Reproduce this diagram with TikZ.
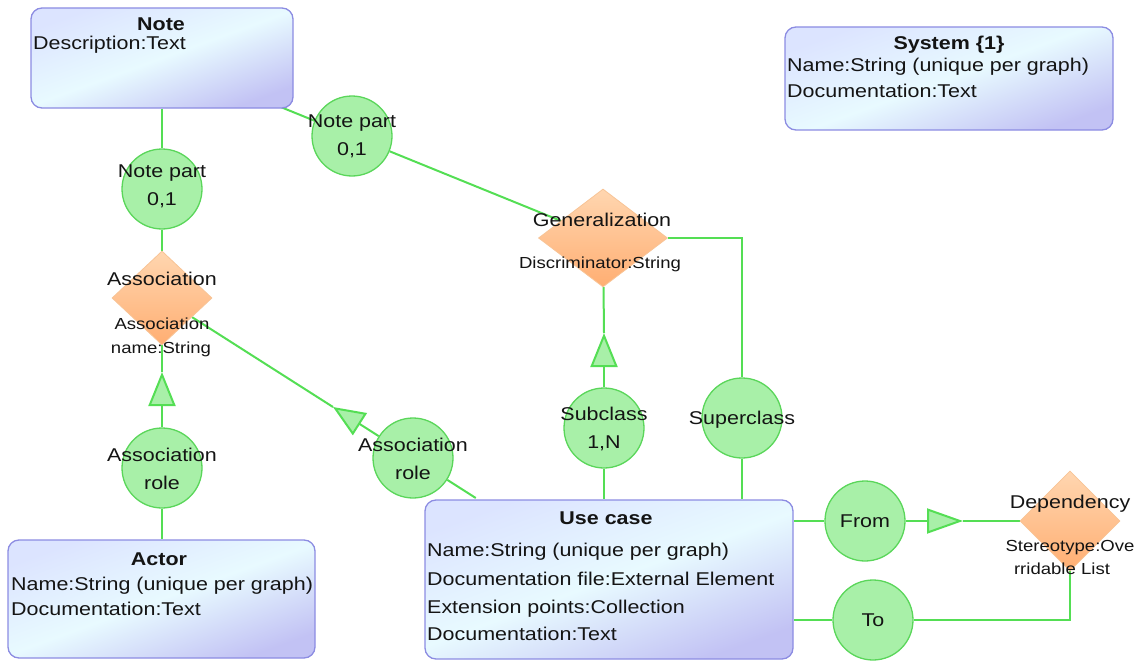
\documentclass[tikz,border=0pt]{standalone}
\usepackage{fontspec}
\setmainfont{Liberation Sans}[FakeStretch=1.16]
\usetikzlibrary{shapes.geometric,arrows.meta,calc}
\pgfdeclarelayer{background}
\pgfsetlayers{background,main}

\definecolor{linegreen}{RGB}{84,222,84}
\definecolor{circfill}{RGB}{168,240,168}
\definecolor{circdraw}{RGB}{90,214,90}
\definecolor{boxdraw}{RGB}{140,140,226}
\definecolor{boxtop}{RGB}{220,228,255}
\definecolor{boxmid}{RGB}{232,250,255}
\definecolor{boxbot}{RGB}{194,194,244}
\definecolor{diatop}{RGB}{255,214,176}
\definecolor{diabot}{RGB}{255,174,114}
\definecolor{diadraw}{RGB}{248,196,150}
\definecolor{ink}{RGB}{20,20,20}

\tikzset{
  entity/.style={draw=boxdraw, line width=1.3pt, rounded corners=11pt, inner sep=0pt,
    top color=boxtop, bottom color=boxbot, middle color=boxmid, shading angle=20},
  rel/.style={diamond, draw=diadraw, line width=0.8pt, inner sep=0pt,
    top color=diatop, bottom color=diabot},
  role/.style={circle, draw=circdraw, line width=1.3pt, fill=circfill,
    minimum size=80pt, inner sep=0pt},
  conn/.style={draw=linegreen, line width=2pt},
  tiphead/.style={-{Triangle[length=34pt,width=27pt,fill=circfill]}},
  titletext/.style={font=\fontsize{18.5}{22}\selectfont\bfseries, text=ink, anchor=base, inner sep=0pt},
  attrtext/.style={font=\fontsize{18.5}{22}\selectfont, text=ink, anchor=base west, inner sep=0pt},
  roletext/.style={font=\fontsize{18.5}{28}\selectfont, text=ink, align=center, inner sep=0pt},
  reltext/.style={font=\fontsize{18.5}{22}\selectfont, text=ink, anchor=base, inner sep=0pt},
  smalltext/.style={font=\fontsize{16}{20}\selectfont, text=ink, anchor=base, inner sep=0pt},
}

\begin{document}
\begin{tikzpicture}[x=1pt,y=-1pt]
\useasboundingbox (0,0) rectangle (1141,661);

% entity boxes
\node[entity, minimum width=262pt, minimum height=100pt] (note) at (162,58) {};
\node[titletext] (noteT) at (161,31) {Note};
\node[attrtext] (noteA) at (33,50) {Description:Text};

\node[entity, minimum width=328pt, minimum height=103pt] (system) at (949,78.5) {};
\node[titletext] (systemT) at (949,50) {System \{1\}};
\node[attrtext] (systemA) at (787,72) {Name:String (unique per graph)};
\node[attrtext] (systemB) at (787,98) {Documentation:Text};

\node[entity, minimum width=307pt, minimum height=118pt] (actor) at (161.5,599) {};
\node[titletext] (actorT) at (159,565) {Actor};
\node[attrtext] (actorA) at (11,590) {Name:String (unique per graph)};
\node[attrtext] (actorB) at (11,615) {Documentation:Text};

\node[entity, minimum width=368pt, minimum height=159pt] (usecase) at (609,579.5) {};
\node[titletext] (usecaseT) at (606,524) {Use case};
\node[attrtext] (usecaseA) at (427,556) {Name:String (unique per graph)};
\node[attrtext] (usecaseB) at (427,585) {Documentation file:External Element};
\node[attrtext] (usecaseC) at (427,613) {Extension points:Collection};
\node[attrtext] (usecaseD) at (427,640) {Documentation:Text};

% relationship diamonds
\node[rel, minimum width=100pt, minimum height=94pt] (assoc) at (162,298) {};
\node[reltext] (assocT) at (162,285) {Association};
\node[smalltext] (assocA) at (162,329) {Association};
\node[smalltext] (assocB) at (161,353) {name:String};

\node[rel, minimum width=129pt, minimum height=98pt] (gen) at (603,238) {};
\node[reltext] (genT) at (602,226) {Generalization};
\node[smalltext] (genA) at (600,268) {Discriminator:String};

\node[rel, minimum width=100pt, minimum height=100pt] (dep) at (1070,521) {};
\node[reltext] (depT) at (1070,508) {Dependency};
\node[smalltext] (depA) at (1070,551) {Stereotype:Ove};
\node[smalltext] (depB) at (1062,574) {rridable List};

% role circles
\node[role] (npl) at (162,189) {};
\node[roletext] (nplT) at (162,186) {Note part\\0,1};
\node[role] (npr) at (352,136) {};
\node[roletext] (nprT) at (352,136) {Note part\\0,1};
\node[role] (arl) at (162,468) {};
\node[roletext] (arlT) at (162,469) {Association\\role};
\node[role] (arr) at (413,458) {};
\node[roletext] (arrT) at (413,459) {Association\\role};
\node[role] (sub) at (604,428) {};
\node[roletext] (subT) at (604,428.5) {Subclass\\1,N};
\node[role] (sup) at (742,418) {};
\node[roletext] (supT) at (742,420) {Superclass};
\node[role] (from) at (865,521) {};
\node[roletext] (fromT) at (865,521) {From};
\node[role] (to) at (873,620) {};
\node[roletext] (toT) at (873,620) {To};

% connectors
\coordinate (t1) at (162,372);
\coordinate (t2) at (333,407);
\coordinate (t3) at (604,333);
\coordinate (t4) at (963,521);
\begin{pgfonlayer}{background}
\draw[conn] (note) -- (npl) -- (assoc);
\draw[conn,tiphead] (arl) -- (t1);
\draw[conn] (t1) -- (assoc);
\draw[conn] (arl) -- (arl |- actor.north);
\draw[conn,-{Triangle[length=32pt,width=26pt,fill=circfill]}] (arr) -- (t2);
\draw[conn] (t2) -- (assoc);
\draw[conn] (arr) -- ($(assoc)!1.25!(arr)$);
\draw[conn] (gen) -- (npr) -- ($(gen)!1.3!(npr)$);
\draw[conn,tiphead] (sub) -- (t3);
\draw[conn] (t3) -- (gen);
\draw[conn] (sub) -- (sub |- usecase.north);
\draw[conn] (gen) -| (sup);
\draw[conn] (sup) -- (sup |- usecase.north);
\draw[conn] (usecase.east |- from) -- (from);
\draw[conn,-{Triangle[length=36pt,width=25pt,fill=circfill]}] (from) -- (t4);
\draw[conn] (t4) -- (dep);
\draw[conn] (usecase.east |- to) -- (to) -- (to -| dep) -- (dep);
\end{pgfonlayer}
\end{tikzpicture}
\end{document}
